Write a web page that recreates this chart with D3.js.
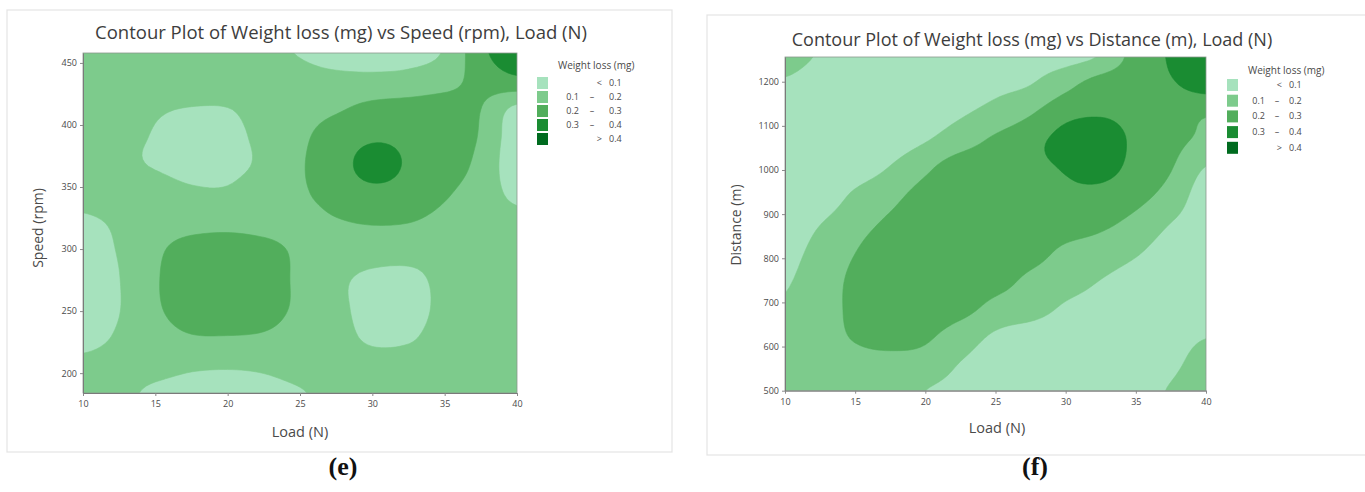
<!DOCTYPE html>
<html>
<head>
<meta charset="utf-8">
<script src="https://cdn.jsdelivr.net/npm/d3@7"></script>
<style>
  body { margin: 0; background: #fff; }
  text { font-family: "Open Sans", "Noto Sans", sans-serif; }
</style>
</head>
<body>
<svg id="chart" width="1365" height="492"></svg>
<script>
// ---- data ----
var loadGrid = [10, 12.5, 15, 17.5, 20, 22.5, 25, 27.5, 30, 32.5, 35, 37.5, 40];
// rows are listed top of the plot first
var speedGrid = [458, 435.2, 412.3, 389.5, 366.7, 343.8, 321, 298.2, 275.3, 252.5, 229.7, 206.8, 184];
var distanceGrid = [1256, 1193, 1130, 1067, 1004, 941, 878, 815, 752, 689, 626, 563, 500];

var weightLossSpeed = [
  [0.15, 0.16, 0.15, 0.14, 0.13, 0.12, 0.095, 0.06, 0.05, 0.06, 0.11, 0.27, 0.38],
  [0.15, 0.16, 0.155, 0.15, 0.145, 0.14, 0.135, 0.13, 0.13, 0.14, 0.17, 0.23, 0.27],
  [0.15, 0.14, 0.11, 0.095, 0.097, 0.13, 0.16, 0.19, 0.23, 0.24, 0.24, 0.20, 0.07],
  [0.15, 0.12, 0.095, 0.07, 0.08, 0.12, 0.18, 0.25, 0.29, 0.28, 0.25, 0.19, 0.04],
  [0.15, 0.12, 0.095, 0.065, 0.075, 0.12, 0.19, 0.26, 0.33, 0.29, 0.25, 0.17, 0.04],
  [0.14, 0.15, 0.15, 0.12, 0.115, 0.16, 0.185, 0.24, 0.27, 0.26, 0.21, 0.15, 0.08],
  [0.08, 0.115, 0.15, 0.16, 0.165, 0.16, 0.16, 0.19, 0.205, 0.20, 0.17, 0.15, 0.13],
  [0.07, 0.105, 0.18, 0.25, 0.27, 0.24, 0.18, 0.15, 0.14, 0.13, 0.13, 0.14, 0.15],
  [0.06, 0.098, 0.19, 0.26, 0.28, 0.25, 0.18, 0.12, 0.08, 0.08, 0.12, 0.14, 0.15],
  [0.06, 0.097, 0.185, 0.25, 0.27, 0.24, 0.18, 0.12, 0.075, 0.07, 0.12, 0.14, 0.15],
  [0.07, 0.11, 0.16, 0.195, 0.198, 0.19, 0.16, 0.13, 0.085, 0.09, 0.13, 0.14, 0.15],
  [0.12, 0.13, 0.13, 0.115, 0.11, 0.115, 0.13, 0.14, 0.13, 0.13, 0.14, 0.145, 0.15],
  [0.14, 0.12, 0.085, 0.07, 0.07, 0.08, 0.095, 0.125, 0.14, 0.145, 0.15, 0.15, 0.15]
];

var weightLossDistance = [
  [0.12, 0.095, 0.08, 0.075, 0.07, 0.07, 0.07, 0.07, 0.07, 0.11, 0.24, 0.31, 0.38],
  [0.09, 0.07, 0.065, 0.065, 0.065, 0.07, 0.08, 0.099, 0.17, 0.25, 0.27, 0.29, 0.34],
  [0.05, 0.05, 0.055, 0.06, 0.07, 0.09, 0.13, 0.19, 0.27, 0.29, 0.27, 0.24, 0.21],
  [0.04, 0.045, 0.05, 0.06, 0.095, 0.15, 0.22, 0.27, 0.33, 0.35, 0.28, 0.23, 0.18],
  [0.035, 0.04, 0.06, 0.105, 0.18, 0.26, 0.28, 0.285, 0.305, 0.33, 0.27, 0.205, 0.095],
  [0.035, 0.05, 0.115, 0.17, 0.24, 0.27, 0.28, 0.28, 0.285, 0.27, 0.23, 0.16, 0.05],
  [0.05, 0.098, 0.16, 0.22, 0.27, 0.28, 0.28, 0.27, 0.25, 0.22, 0.17, 0.098, 0.05],
  [0.07, 0.13, 0.198, 0.26, 0.28, 0.28, 0.27, 0.24, 0.18, 0.15, 0.11, 0.06, 0.04],
  [0.09, 0.15, 0.22, 0.27, 0.28, 0.27, 0.24, 0.18, 0.14, 0.10, 0.07, 0.05, 0.04],
  [0.11, 0.16, 0.22, 0.26, 0.27, 0.24, 0.17, 0.14, 0.09, 0.07, 0.055, 0.05, 0.045],
  [0.13, 0.16, 0.21, 0.24, 0.22, 0.15, 0.09, 0.065, 0.055, 0.05, 0.055, 0.07, 0.095],
  [0.13, 0.15, 0.17, 0.17, 0.16, 0.098, 0.07, 0.055, 0.05, 0.05, 0.06, 0.085, 0.125],
  [0.14, 0.15, 0.16, 0.15, 0.10, 0.075, 0.06, 0.05, 0.05, 0.055, 0.075, 0.105, 0.14]
];

var levelThresholds = [0.1, 0.2, 0.3, 0.4];
var levelColors = ['#a6e2bd', '#7dcb8c', '#52ae5c', '#1a8c32', '#006b1f'];
var levelLeft = ['', '0.1', '0.2', '0.3', ''];
var levelMid = ['<', '\u2013', '\u2013', '\u2013', '>'];
var levelRight = ['0.1', '0.2', '0.3', '0.4', '0.4'];

var loadTicks = [10, 15, 20, 25, 30, 35, 40];
var speedTicks = [200, 250, 300, 350, 400, 450];
var distanceTicks = [500, 600, 700, 800, 900, 1000, 1100, 1200];

// ---- layout ----
var panels = [
  {
    id: 'e', title: 'Contour Plot of Weight loss (mg) vs Speed (rpm), Load (N)', titleSize: 18.5,
    titleX: 341, titleY: 39, yTitle: 'Speed (rpm)', yTitleX: 43, yTitleY: 228,
    xTitleX: 300, xTitleY: 437, tag: '(e)', tagX: 343, tagY: 475,
    frame: { x: 7, y: 10, w: 665, h: 442 },
    plot: { left: 83, top: 53, right: 517, bottom: 393 },
    yGrid: speedGrid, yDomain: [184, 458], yTicks: speedTicks, grid: weightLossSpeed,
    legend: { x: 537, titleY: 65, y0: 83, step: 14, leftEnd: 42, mid: 55, sym: 65, right: 72 }
  },
  {
    id: 'f', title: 'Contour Plot of Weight loss (mg) vs Distance (m), Load (N)', titleSize: 18,
    titleX: 1032, titleY: 46, yTitle: 'Distance (m)', yTitleX: 741, yTitleY: 225,
    xTitleX: 997, xTitleY: 433, tag: '(f)', tagX: 1035, tagY: 475,
    frame: { x: 707, y: 15, w: 700, h: 440 },
    plot: { left: 785, top: 57, right: 1206, bottom: 390.7 },
    yGrid: distanceGrid, yDomain: [500, 1256], yTicks: distanceTicks, grid: weightLossDistance,
    legend: { x: 1227, titleY: 70, y0: 85, step: 15.7, leftEnd: 38, mid: 50, sym: 55, right: 62 }
  }
];

var svg = d3.select('#chart');

// Catmull-Rom resampling of the read grid, only to draw smooth contour edges
function cubic(p0, p1, p2, p3, t) {
  return p1 + 0.5 * t * (p2 - p0 + t * (2 * p0 - 5 * p1 + 4 * p2 - p3 + t * (3 * (p1 - p2) + p3 - p0)));
}

function refine(grid, k) {
  var rows = grid.length, cols = grid[0].length;
  var nx = (cols - 1) * k + 1, ny = (rows - 1) * k + 1;
  function at(r, c) {
    r = Math.max(0, Math.min(rows - 1, r));
    c = Math.max(0, Math.min(cols - 1, c));
    return grid[r][c];
  }
  var tmp = [];
  for (var r = 0; r < rows; r++) {
    var line = [];
    for (var i = 0; i < nx; i++) {
      var c = Math.floor(i / k), t = (i % k) / k;
      if (c >= cols - 1) { c = cols - 2; t = 1; }
      line.push(cubic(at(r, c - 1), at(r, c), at(r, c + 1), at(r, c + 2), t));
    }
    tmp.push(line);
  }
  var out = new Array(nx * ny);
  for (var i2 = 0; i2 < nx; i2++) {
    for (var j = 0; j < ny; j++) {
      var rr = Math.floor(j / k), tt = (j % k) / k;
      if (rr >= rows - 1) { rr = rows - 2; tt = 1; }
      var g = function (q) { q = Math.max(0, Math.min(rows - 1, q)); return tmp[q][i2]; };
      out[j * nx + i2] = cubic(g(rr - 1), g(rr), g(rr + 1), g(rr + 2), tt);
    }
  }
  return { values: out, nx: nx, ny: ny, k: k };
}

panels.forEach(function (p) {
  var g = svg.append('g');

  // light frame around the panel
  g.append('rect')
    .attr('x', p.frame.x).attr('y', p.frame.y)
    .attr('width', p.frame.w).attr('height', p.frame.h)
    .attr('fill', 'none').attr('stroke', '#e4e4e4').attr('stroke-width', 1.2);

  var x = d3.scaleLinear().domain([10, 40]).range([p.plot.left, p.plot.right]);
  var y = d3.scaleLinear().domain(p.yDomain).range([p.plot.bottom, p.plot.top]);

  var colToLoad = d3.scaleLinear().domain(d3.range(loadGrid.length)).range(loadGrid);
  var rowToY = d3.scaleLinear().domain(d3.range(p.yGrid.length)).range(p.yGrid);

  var fine = refine(p.grid, 8);
  var contours = d3.contours().size([fine.nx, fine.ny]).thresholds(levelThresholds)(fine.values);

  var proj = d3.geoTransform({
    point: function (cx, cy) {
      var ix = Math.max(0, Math.min(fine.nx - 1, cx - 0.5)) / fine.k;
      var iy = Math.max(0, Math.min(fine.ny - 1, cy - 0.5)) / fine.k;
      this.stream.point(x(colToLoad(ix)), y(rowToY(iy)));
    }
  });
  var path = d3.geoPath(proj);

  var clipId = 'clip-' + p.id;
  svg.append('clipPath').attr('id', clipId).append('rect')
    .attr('x', p.plot.left).attr('y', p.plot.top)
    .attr('width', p.plot.right - p.plot.left).attr('height', p.plot.bottom - p.plot.top);

  var area = g.append('g').attr('clip-path', 'url(#' + clipId + ')');
  area.append('rect')
    .attr('x', p.plot.left).attr('y', p.plot.top)
    .attr('width', p.plot.right - p.plot.left).attr('height', p.plot.bottom - p.plot.top)
    .attr('fill', levelColors[0]);

  area.selectAll('path.level')
    .data(contours)
    .enter()
    .append('path')
    .attr('class', 'level')
    .attr('d', path)
    .attr('fill', function (d, i) { return levelColors[i + 1]; })
    .attr('stroke', function (d, i) { return levelColors[i + 1]; })
    .attr('stroke-width', 0.6);

  // plot border
  g.append('rect')
    .attr('x', p.plot.left).attr('y', p.plot.top)
    .attr('width', p.plot.right - p.plot.left).attr('height', p.plot.bottom - p.plot.top)
    .attr('fill', 'none').attr('stroke', '#8c9a8e').attr('stroke-width', 0.8);

  // axes
  var xAxis = g.append('g')
    .attr('transform', 'translate(0,' + p.plot.bottom + ')')
    .call(d3.axisBottom(x).tickValues(loadTicks).tickSize(3).tickPadding(5).tickSizeOuter(0));
  var yAxis = g.append('g')
    .attr('transform', 'translate(' + p.plot.left + ',0)')
    .call(d3.axisLeft(y).tickValues(p.yTicks).tickFormat(d3.format('d')).tickSize(3).tickPadding(3).tickSizeOuter(0));

  [xAxis, yAxis].forEach(function (a) {
    a.select('.domain').attr('stroke', '#7a7a7a');
    a.selectAll('.tick line').attr('stroke', '#8a8a8a');
    a.selectAll('.tick text')
      .attr('fill', '#4a4a4a')
      .style('font-size', '9px')
      .style('font-family', '"Open Sans", sans-serif');
  });

  // titles
  g.append('text')
    .attr('x', p.titleX).attr('y', p.titleY)
    .attr('text-anchor', 'middle')
    .attr('fill', '#3d3d3d')
    .style('font-size', p.titleSize + 'px')
    .text(p.title);

  g.append('text')
    .attr('x', p.xTitleX).attr('y', p.xTitleY)
    .attr('text-anchor', 'middle')
    .attr('fill', '#4a4a4a')
    .style('font-size', '14.5px')
    .text('Load (N)');

  g.append('text')
    .attr('transform', 'translate(' + p.yTitleX + ',' + p.yTitleY + ') rotate(-90)')
    .attr('text-anchor', 'middle')
    .attr('fill', '#4a4a4a')
    .style('font-size', '14px')
    .text(p.yTitle);

  g.append('text')
    .attr('x', p.tagX).attr('y', p.tagY)
    .attr('text-anchor', 'middle')
    .attr('fill', '#111')
    .style('font-family', '"Liberation Serif", "DejaVu Serif", serif')
    .style('font-weight', 'bold')
    .style('font-size', '26px')
    .text(p.tag);

  // legend
  var L = p.legend;
  g.append('text')
    .attr('x', L.x + 21).attr('y', L.titleY + 3.5)
    .attr('fill', '#4a4a4a')
    .style('font-size', '10px')
    .text('Weight loss (mg)');

  var rows = g.selectAll('g.legrow')
    .data(levelColors)
    .enter()
    .append('g')
    .attr('class', 'legrow')
    .attr('transform', function (d, i) { return 'translate(' + L.x + ',' + (L.y0 + i * L.step) + ')'; });

  rows.append('rect')
    .attr('x', 0).attr('y', -6)
    .attr('width', 11).attr('height', 12)
    .attr('fill', function (d) { return d; });

  rows.append('text')
    .attr('x', L.leftEnd).attr('y', 3)
    .attr('text-anchor', 'end')
    .attr('fill', '#4a4a4a').style('font-size', '9px')
    .text(function (d, i) { return levelLeft[i]; });

  rows.append('text')
    .attr('x', function (d, i) { return (levelMid[i] === '\u2013') ? L.mid : L.sym; })
    .attr('y', 3)
    .attr('text-anchor', function (d, i) { return (levelMid[i] === '\u2013') ? 'middle' : 'end'; })
    .attr('fill', '#4a4a4a').style('font-size', '9px')
    .text(function (d, i) { return levelMid[i]; });

  rows.append('text')
    .attr('x', L.right).attr('y', 3)
    .attr('fill', '#4a4a4a').style('font-size', '9px')
    .text(function (d, i) { return levelRight[i]; });
});
</script>
</body>
</html>
